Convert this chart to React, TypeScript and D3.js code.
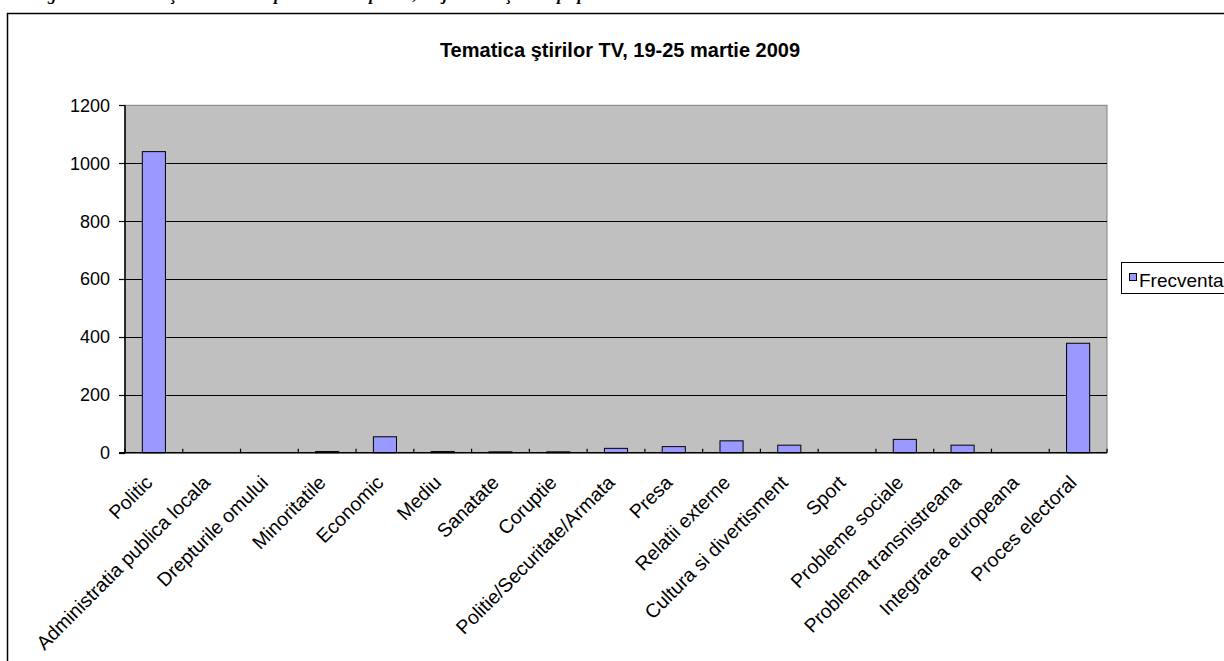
import React from "react";
import * as d3 from "d3";

const categories = [
  "Politic",
  "Administratia publica locala",
  "Drepturile omului",
  "Minoritatile",
  "Economic",
  "Mediu",
  "Sanatate",
  "Coruptie",
  "Politie/Securitate/Armata",
  "Presa",
  "Relatii externe",
  "Cultura si divertisment",
  "Sport",
  "Probleme sociale",
  "Problema transnistreana",
  "Integrarea europeana",
  "Proces electoral",
];
const frecventa = [1040, 0, 0, 4, 55, 4, 3, 3, 15, 21, 41, 26, 0, 46, 26, 0, 378];
const yTicks = [0, 200, 400, 600, 800, 1000, 1200];
const seriesName = "Frecventa";
const chartTitle = "Tematica ştirilor TV, 19-25 martie 2009";
const caption =
  "Figura 9. Tematica ştirilor TV din perioada campaniei, majoritatea ştirilor pe posturi";

const W = 1224;
const H = 661;
const plot = { left: 125, right: 1107, top: 105.3, bottom: 452.7 };
const FONT = "'Liberation Sans', Arial, sans-serif";
const BAR = "#9999FF";

const App = () => {
  const x = d3
    .scaleBand<string>()
    .domain(categories)
    .range([plot.left, plot.right])
    .paddingInner(0.6)
    .paddingOuter(0.3);
  const step = x.step();
  const y = d3.scaleLinear().domain([0, 1200]).range([plot.bottom, plot.top]);

  return (
    <svg
      width={W}
      height={H}
      style={{ position: "absolute", left: 0, top: 0, background: "#fff" }}
    >
      {/* figure caption, only its descenders show at the top edge */}
      <text
        x={32}
        y={-0.5}
        fontFamily="'Liberation Serif', 'Times New Roman', serif"
        fontStyle="italic"
        fontWeight="bold"
        fontSize={17}
      >
        {caption}
      </text>

      {/* chart area frame */}
      <rect x={7.5} y={13.5} width={1300} height={700} fill="#fff" stroke="#000" strokeWidth={1.5} />

      <text
        x={620}
        y={57}
        textAnchor="middle"
        fontFamily={FONT}
        fontWeight="bold"
        fontSize={20}
      >
        {chartTitle}
      </text>

      {/* plot area */}
      <rect
        x={plot.left}
        y={plot.top}
        width={plot.right - plot.left}
        height={plot.bottom - plot.top}
        fill="#C0C0C0"
        stroke="#808080"
        strokeWidth={1}
      />
      {yTicks
        .filter((t) => t > 0 && t < 1200)
        .map((t) => (
          <line
            key={"g" + t}
            x1={plot.left}
            x2={plot.right}
            y1={Math.round(y(t)) + 0.5}
            y2={Math.round(y(t)) + 0.5}
            stroke="#000"
            strokeWidth={1}
          />
        ))}

      {categories.map((c, i) => {
        const v = frecventa[i];
        if (v <= 0) return null;
        return (
          <rect
            key={c}
            x={x(c)!}
            y={y(v)}
            width={x.bandwidth()}
            height={y(0) - y(v)}
            fill={BAR}
            stroke="#000"
            strokeWidth={1}
          />
        );
      })}

      {/* y axis */}
      <line x1={plot.left} x2={plot.left} y1={plot.top} y2={plot.bottom} stroke="#000" strokeWidth={1.5} />
      {yTicks.map((t) => (
        <g key={"y" + t}>
          <line
            x1={plot.left - 6}
            x2={plot.left}
            y1={Math.round(y(t)) + 0.5}
            y2={Math.round(y(t)) + 0.5}
            stroke="#000"
            strokeWidth={1.2}
          />
          <text
            x={110}
            y={y(t)}
            dy="0.36em"
            textAnchor="end"
            fontFamily={FONT}
            fontSize={18}
          >
            {t}
          </text>
        </g>
      ))}

      {/* x axis */}
      <line x1={plot.left - 6} x2={plot.right} y1={plot.bottom} y2={plot.bottom} stroke="#000" strokeWidth={1.5} />
      {d3.range(categories.length + 1).map((i) => (
        <line
          key={"t" + i}
          x1={plot.left + i * step}
          x2={plot.left + i * step}
          y1={plot.bottom - 4}
          y2={plot.bottom}
          stroke="#000"
          strokeWidth={1.2}
        />
      ))}
      {categories.map((c) => {
        const cx = x(c)! + x.bandwidth() / 2 - 5;
        const cy = 479;
        return (
          <text
            key={"l" + c}
            x={cx}
            y={cy}
            dy="0.35em"
            textAnchor="end"
            transform={`rotate(-45 ${cx} ${cy})`}
            fontFamily={FONT}
            fontSize={19.5}
          >
            {c}
          </text>
        );
      })}

      {/* legend */}
      <rect x={1121.5} y={262.5} width={140} height={31} fill="#fff" stroke="#000" strokeWidth={1} />
      <rect x={1129.5} y={273.5} width={7} height={7} fill={BAR} stroke="#000" strokeWidth={1} />
      <text x={1139} y={287} fontFamily={FONT} fontSize={19}>
        {seriesName}
      </text>
    </svg>
  );
};

export default App;
